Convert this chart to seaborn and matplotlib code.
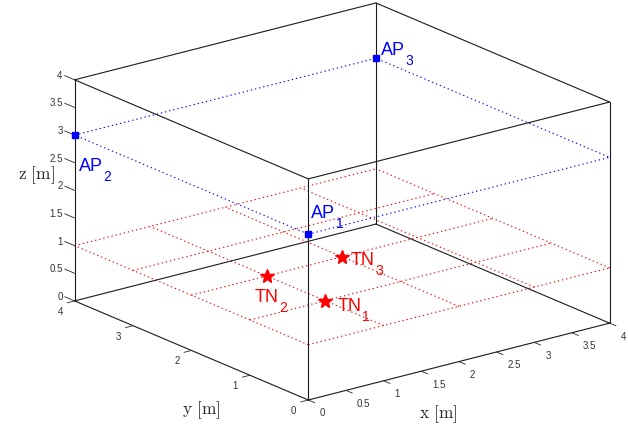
import numpy as np
import matplotlib
matplotlib.use("Agg")
import matplotlib.pyplot as plt
import seaborn as sns
from matplotlib.font_manager import FontProperties
from mpl_toolkits.mplot3d import proj3d

# Room extent [m]
room_x = [0, 4]
room_y = [0, 4]
room_z = [0, 4]

# Access points (anchors)
ap_index = ["1", "2", "3"]
ap_x = [0, 0, 4]
ap_y = [0, 4, 4]
ap_z = [3, 3, 3]

# Target nodes
tn_index = ["1", "2", "3"]
tn_x = [1, 1, 2]
tn_y = [1, 2, 2]
tn_z = [1, 1, 1]

# Candidate grid at node height
grid_x = [0, 1, 2, 3, 4]
grid_y = [0, 1, 2, 3, 4]
grid_z = 1

x_ticks = [0, 0.5, 1, 1.5, 2, 2.5, 3, 3.5, 4]
y_ticks = [0, 1, 2, 3, 4]
z_ticks = [0, 0.5, 1, 1.5, 2, 2.5, 3, 3.5, 4]

W, H, DPI = 628, 427, 100

sns.set_theme(style="white")
plt.rcParams["font.family"] = ["Liberation Sans", "DejaVu Sans"]

fig = plt.figure(figsize=(W / DPI, H / DPI), dpi=DPI)
ax = fig.add_subplot(projection="3d", proj_type="ortho", computed_zorder=False)
ax.set_position([0, 0, 1, 1])
ax.view_init(elev=19.2, azim=-127.8)
ax.set_xlim(*room_x)
ax.set_ylim(*room_y)
ax.set_zlim(*room_z)
box_aspect = (1, 1, 0.614)
ax.set_box_aspect(box_aspect)
ax.set_axis_off()

# Room box
edge_kw = dict(color="#1a1a1a", lw=0.8, clip_on=False, zorder=2)
for yv in room_y:
    for zv in room_z:
        ax.plot(room_x, [yv, yv], [zv, zv], **edge_kw)
for xv in room_x:
    for zv in room_z:
        ax.plot([xv, xv], room_y, [zv, zv], **edge_kw)
for xv in room_x:
    for yv in room_y:
        ax.plot([xv, xv], [yv, yv], room_z, **edge_kw)

# Red grid on the node plane
grid_kw = dict(color="red", lw=0.8, ls=(0, (1.2, 2.6)), clip_on=False, zorder=1)
for xv in grid_x:
    ax.plot([xv, xv], [grid_y[0], grid_y[-1]], [grid_z, grid_z], **grid_kw)
for yv in grid_y:
    ax.plot([grid_x[0], grid_x[-1]], [yv, yv], [grid_z, grid_z], **grid_kw)

# Blue outline at anchor height
h_ap = ap_z[0]
ax.plot([room_x[0], room_x[1], room_x[1], room_x[0], room_x[0]],
        [room_y[0], room_y[0], room_y[1], room_y[1], room_y[0]],
        [h_ap] * 5, color="blue", lw=0.8, ls=(0, (1.2, 2.6)), clip_on=False, zorder=1)

# Tick marks
tick_kw = dict(color="#262626", lw=0.6, clip_on=False, zorder=2)
for t in x_ticks:
    ax.plot([t, t], [room_y[0], room_y[0] - 0.11], [room_z[0]] * 2, **tick_kw)
for t in y_ticks:
    ax.plot([room_x[0], room_x[0] - 0.1], [t, t], [room_z[0]] * 2, **tick_kw)
for t in z_ticks:
    ax.plot([room_x[0]] * 2, [room_y[1], room_y[1] + 0.17], [t, t], **tick_kw)

# Markers
ax.plot(ap_x, ap_y, ap_z, ls="none", marker="s", ms=5, color="blue",
        clip_on=False, zorder=4)
ax.plot(tn_x, tn_y, tn_z, ls="none", marker="*", ms=10, color="red",
        clip_on=False, zorder=4)

# Axis titles
lbl_kw = dict(fontsize=12.5, math_fontfamily="cm", color="#262626",
              ha="center", va="center")
fig.text(438.5 / W, 1 - 414.5 / H, r"$\mathrm{x\ [m]}$", **lbl_kw)
fig.text(201.5 / W, 1 - 410 / H, r"$\mathrm{y\ [m]}$", **lbl_kw)
fig.text(36 / W, 1 - 175.5 / H, r"$\mathrm{z\ [m]}$", **lbl_kw)


def projected(x, y, z):
    xs, ys, _ = proj3d.proj_transform(np.array([x]), np.array([y]), np.array([z]),
                                      ax.get_proj())
    return float(xs[0]), float(ys[0])


def screen(x, y, z):
    return ax.transData.transform([projected(x, y, z)])[0]


# Fit the cube into the frame: width from the side edges, then the front corner
fig.canvas.draw()
left = screen(room_x[0], room_y[1], room_z[0])
right = screen(room_x[1], room_y[0], room_z[0])
ax.set_box_aspect(box_aspect, zoom=(610 - 75) / (right[0] - left[0]))
fig.canvas.draw()
origin = screen(room_x[0], room_y[0], room_z[0])
ax.set_position([(308.3 - origin[0]) / W, ((H - 401) - origin[1]) / H, 1, 1])
fig.canvas.draw()


def note(x, y, z, s, dx, dy, **kw):
    """Text anchored at a 3D point, shifted by (dx, dy) pixels."""
    ax.annotate(s, xy=projected(x, y, z), xycoords="data", xytext=(dx, dy),
                textcoords="offset pixels", annotation_clip=False, **kw)


# Tick labels
tl_kw = dict(fontsize=7, color="#333333")
for t in x_ticks:
    note(t, room_y[0], room_z[0], f"{t:g}", 11, -12.5, ha="left", va="center", **tl_kw)
for t in y_ticks:
    note(room_x[0], t, room_z[0], f"{t:g}", -14.5, -10, ha="center", va="center", **tl_kw)
for t in z_ticks:
    note(room_x[0], room_y[1], t, f"{t:g}", -12, 5, ha="right", va="center", **tl_kw)

# Point labels with subscripts
renderer = fig.canvas.get_renderer()
main_fp = FontProperties(family=["Liberation Sans"], size=13)


def label(x, y, z, name, idx, dx, dy, color):
    w, _, _ = renderer.get_text_width_height_descent(name, main_fp, ismath=False)
    note(x, y, z, name, dx, dy, fontsize=13, color=color, ha="left", va="baseline")
    note(x, y, z, idx, dx + w + 0.5, dy - 10, fontsize=10, color=color,
         ha="left", va="baseline")


ap_offsets = [(3, 17), (4, -35), (5, 4)]
for i in range(len(ap_x)):
    label(ap_x[i], ap_y[i], ap_z[i], "AP", ap_index[i], *ap_offsets[i], "blue")

tn_offsets = [(12, -9), (-12, -25), (9, -7)]
for i in range(len(tn_x)):
    label(tn_x[i], tn_y[i], tn_z[i], "TN", tn_index[i], *tn_offsets[i], "red")

fig.savefig("out.png", dpi=DPI)
